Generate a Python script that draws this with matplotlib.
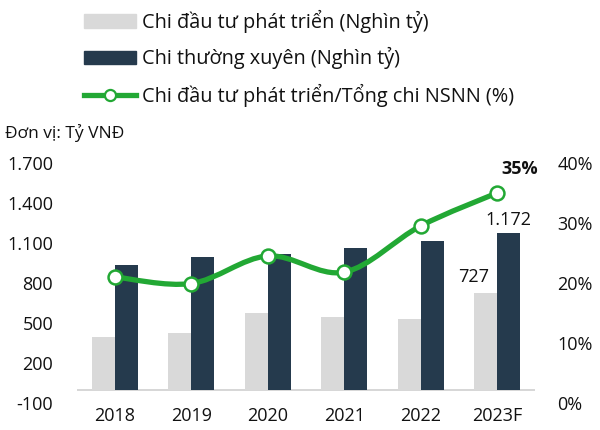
import numpy as np
import matplotlib.pyplot as plt
from matplotlib.path import Path
from matplotlib.patches import PathPatch, Patch
from matplotlib.lines import Line2D

plt.rcParams['font.family'] = ['Open Sans', 'DejaVu Sans']

years = ["2018", "2019", "2020", "2021", "2022", "2023F"]
dau_tu = [397, 427, 577, 542, 527, 727]          # Chi đầu tư phát triển (Nghìn tỷ)
thuong_xuyen = [933, 997, 1017, 1062, 1115, 1172]  # Chi thường xuyên (Nghìn tỷ)
ty_le = [21.0, 19.9, 24.5, 21.8, 29.5, 35.0]      # Chi ĐTPT / Tổng chi NSNN (%)

c_gray = "#d9d9d9"
c_navy = "#253a4d"
c_green = "#22a834"
c_text = "#111111"

fig = plt.figure(figsize=(6, 4.3), dpi=100)
ax = fig.add_axes([0.128, 0.063, 0.764, 0.558])
ax2 = ax.twinx()

x = np.arange(len(years))
w = 0.30
ax.bar(x - w/2, dau_tu, w, color=c_gray, zorder=2)
ax.bar(x + w/2, thuong_xuyen, w, color=c_navy, zorder=2)
ax.axhline(0, color="#d0d0d0", lw=1.2, zorder=1)

ax.set_xlim(-0.5, len(years) - 0.5)
ax.set_ylim(-100, 1700)
ax.set_yticks([-100, 200, 500, 800, 1100, 1400, 1700])
ax.set_yticklabels(["-100", "200", "500", "800", "1.100", "1.400", "1.700"])
ax.set_xticks(x)
ax.set_xticklabels(years)
ax.tick_params(axis='both', length=0, labelsize=13, colors=c_text)
ax.tick_params(axis='y', pad=17)
ax.tick_params(axis='x', pad=3)

ax2.set_ylim(0, 40)
ax2.set_yticks([0, 10, 20, 30, 40])
ax2.set_yticklabels(["0%", "10%", "20%", "30%", "40%"])
ax2.tick_params(axis='y', length=0, labelsize=13, colors=c_text, pad=16)

for a in (ax, ax2):
    for s in a.spines.values():
        s.set_visible(False)

# smoothed line (Catmull-Rom as cubic bezier)
pts = np.column_stack([x, ty_le]).astype(float)
verts = [pts[0]]
codes = [Path.MOVETO]
for i in range(len(pts) - 1):
    p0 = pts[i - 1] if i > 0 else pts[i]
    p1 = pts[i]
    p2 = pts[i + 1]
    p3 = pts[i + 2] if i + 2 < len(pts) else pts[i + 1]
    verts += [p1 + (p2 - p0) / 6, p2 - (p3 - p1) / 6, p2]
    codes += [Path.CURVE4] * 3
ax2.add_patch(PathPatch(Path(verts, codes), fill=False, ec=c_green, lw=3.8,
                        capstyle='round', zorder=3))
ax2.plot(x, ty_le, ls='none', marker='o', ms=10, mfc='white', mec=c_green,
         mew=1.8, zorder=4)

ax.text(x[-1] - 0.3, dau_tu[-1] + 118, "727", ha='center', va='center',
        fontsize=13, color=c_text)
ax.text(x[-1] + w/2, thuong_xuyen[-1] + 100, "1.172", ha='center', va='center',
        fontsize=13, color=c_text)
ax2.text(x[-1] + 0.3, ty_le[-1] + 4, "35%", ha='center', va='center',
         fontsize=13, fontweight='bold', color=c_text)

fig.text(0.008, 0.69, "Đơn vị: Tỷ VNĐ", fontsize=12.5, va='center', color=c_text)

handles = [Patch(color=c_gray), Patch(color=c_navy),
           Line2D([], [], color=c_green, lw=3.8, marker='o', ms=8,
                  mfc='white', mec=c_green, mew=1.6)]
labels = ["Chi đầu tư phát triển (Nghìn tỷ)", "Chi thường xuyên (Nghìn tỷ)",
          "Chi đầu tư phát triển/Tổng chi NSNN (%)"]
fig.legend(handles, labels, loc='upper left', bbox_to_anchor=(0.12, 1.005),
           frameon=False, fontsize=14.3, handlelength=2.6, handleheight=0.65,
           handletextpad=0.3, labelspacing=0.72, borderaxespad=0.2,
           labelcolor=c_text)

fig.savefig("out.png", dpi=100)
